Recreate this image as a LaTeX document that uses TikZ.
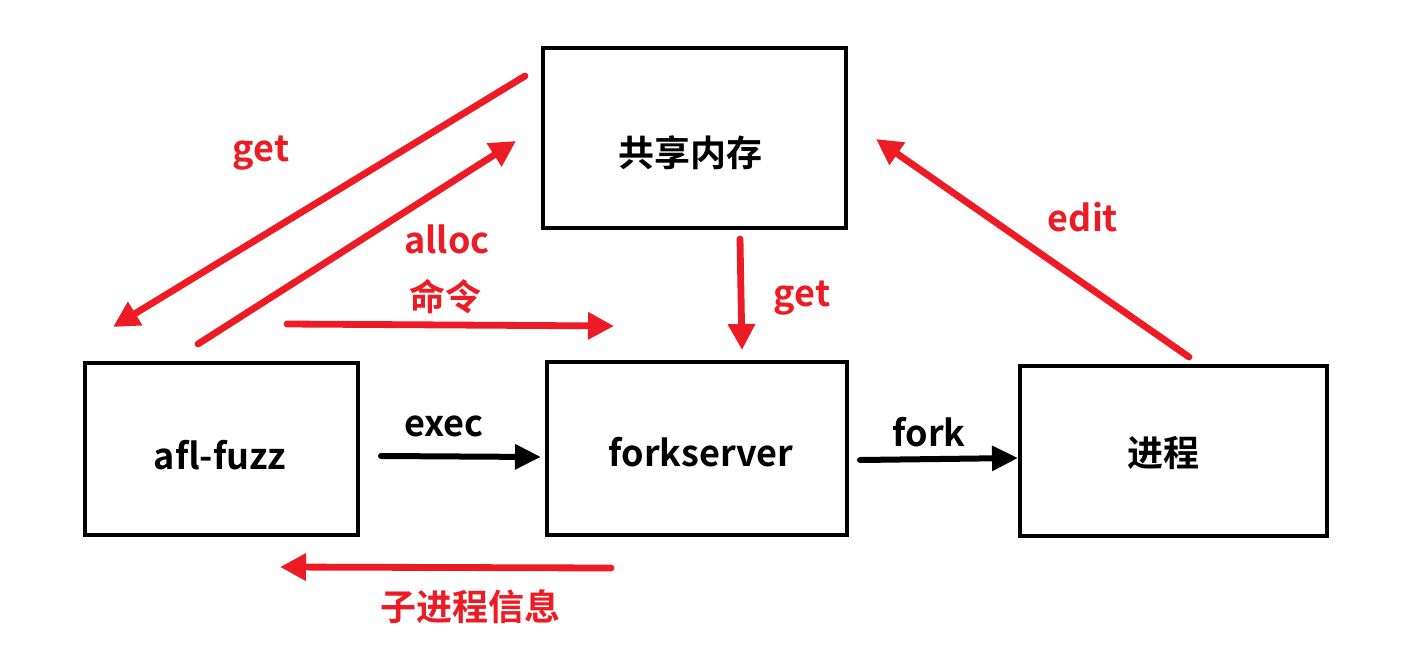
\documentclass[tikz,border=0pt]{standalone}
\usepackage{fontspec}
\setmainfont{Noto Sans CJK SC}[BoldFont={* Bold}]
\usetikzlibrary{arrows.meta}
\definecolor{ared}{HTML}{ED1C24}
\tikzset{
  box/.style={draw=black,line width=1.6pt,minimum width=#1,inner sep=0pt},
  lbl/.style={font=\fontsize{18}{20}\selectfont\bfseries,inner sep=0pt},
  rlbl/.style={lbl,text=ared},
  rarr/.style={draw=ared,line width=3.4pt,line cap=round,-{Triangle[length=13pt,width=13pt]}},
  karr/.style={draw=black,line width=3pt,line cap=round,-{Triangle[length=13pt,width=12pt]}},
}
\begin{document}
\begin{tikzpicture}[x=0.5pt,y=-0.5pt]
\useasboundingbox (0,0) rectangle (1416,669);
% boxes
\node[box, minimum width=151.5pt, minimum height=90pt] (shm) at (694.5,138) {};
\node[lbl] (shmt) at (690,153) {共享内存};
\node[box, minimum width=136.5pt, minimum height=86pt] (afl) at (221.5,449) {};
\node[lbl] (aflt) at (220,455) {afl-fuzz};
\node[box, minimum width=150pt, minimum height=86.5pt] (fs) at (697,448.5) {};
\node[lbl] (fst) at (701,452) {forkserver};
\node[box, minimum width=153.5pt, minimum height=85pt] (proc) at (1173.5,451) {};
\node[lbl] (proct) at (1163,453) {进程};
% coordinates
\coordinate (g1s) at (525,76);  \coordinate (g1e) at (113,327);
\coordinate (a1s) at (198,344); \coordinate (a1e) at (516,141);
\coordinate (c1s) at (287,324); \coordinate (c1e) at (614,326);
\coordinate (g2s) at (740,239); \coordinate (g2e) at (742,350);
\coordinate (e1s) at (1189,357); \coordinate (e1e) at (876,139);
\coordinate (z1s) at (611,568); \coordinate (z1e) at (280,567);
\coordinate (x1s) at (381,456); \coordinate (x1e) at (541,457);
\coordinate (f1s) at (860,460); \coordinate (f1e) at (1018,458);
% arrows
\draw[rarr] (g1s) -- (g1e);
\draw[rarr] (a1s) -- (a1e);
\draw[rarr] (c1s) -- (c1e);
\draw[rarr] (g2s) -- (g2e);
\draw[rarr] (e1s) -- (e1e);
\draw[rarr] (z1s) -- (z1e);
\draw[karr] (x1s) -- (x1e);
\draw[karr] (f1s) -- (f1e);
% labels
\node[rlbl] (lg1) at (261,153) {get};
\node[rlbl] (la1) at (447,239) {alloc};
\node[rlbl] (lc1) at (445,297) {命令};
\node[rlbl] (lg2) at (802,298) {get};
\node[rlbl] (le1) at (1083,217) {edit};
\node[rlbl] (lz1) at (470,607) {子进程信息};
\node[lbl] (lx1) at (444,426) {exec};
\node[lbl] (lf1) at (929,432) {fork};
\end{tikzpicture}
\end{document}
